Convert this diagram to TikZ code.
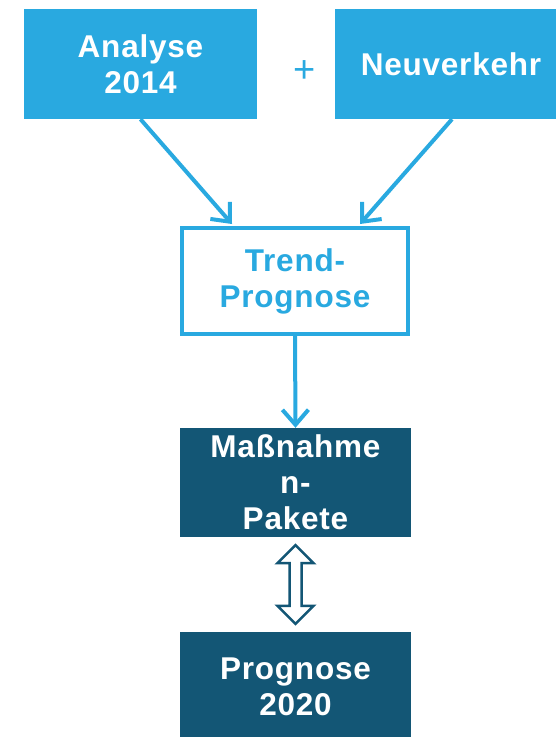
\documentclass[tikz,border=0pt]{standalone}
\usepackage{fontspec}
\setmainfont{Liberation Sans}
\newfontfamily\spaced[LetterSpace=2.5]{Liberation Sans}
\usetikzlibrary{arrows.meta,calc}
\definecolor{lblue}{RGB}{41,169,224}
\definecolor{dblue}{RGB}{19,86,117}
\begin{document}
\begin{tikzpicture}[x=1pt,y=-1pt,
  box/.style={rectangle,inner sep=0pt,align=center,font=\spaced\fontsize{31.5}{36}\selectfont\bfseries},
  lbox/.style={box,fill=lblue,text=white},
  dbox/.style={box,fill=dblue,text=white},
  obox/.style={box,draw=lblue,line width=4pt,fill=white,text=lblue},
  conn/.style={draw=lblue,line width=4pt,-{Straight Barb[length=15pt,width=26pt,line width=4pt]}}]
\clip (0,0) rectangle (556,737);
\node[lbox,minimum width=233pt,minimum height=110pt] (ana) at (140.5,64) {Analyse\\2014};
\node[lbox,minimum width=232pt,minimum height=110pt] (neu) at (451,64) {Neuverkehr};
\node[font=\fontsize{38}{40}\selectfont,text=lblue,inner sep=0pt] (plus) at (305,72) {+};
\node[obox,minimum width=226pt,minimum height=106pt] (trend) at (295,281) {Trend-\\Prognose};
\node[dbox,minimum width=231pt,minimum height=109pt] (mass) at (295.5,482.5) {Maßnahme\\n-\\Pakete};
\node[dbox,minimum width=231pt,minimum height=110pt] (prog) at (295.5,687) {Prognose\\2020};
\draw[conn] (ana.south) -- ($(trend.north west)+(52,-2)$);
\draw[conn] ($(neu.south)+(1,0)$) -- ($(trend.north east)+(-50,-2)$);
\draw[conn] (trend.south) -- (mass.north);
\draw[dblue,line width=2.5pt,fill=white,line join=miter]
  ($(mass.south)+(0,8)$) -- ++(18,18) -- ++(-12,0) -- ($(prog.north)+(6,-26)$)
  -- ++(12,0) -- ($(prog.north)+(0,-8)$) -- ++(-18,-18) -- ++(12,0)
  -- ($(mass.south)+(-6,26)$) -- ++(-12,0) -- cycle;
\end{tikzpicture}
\end{document}
